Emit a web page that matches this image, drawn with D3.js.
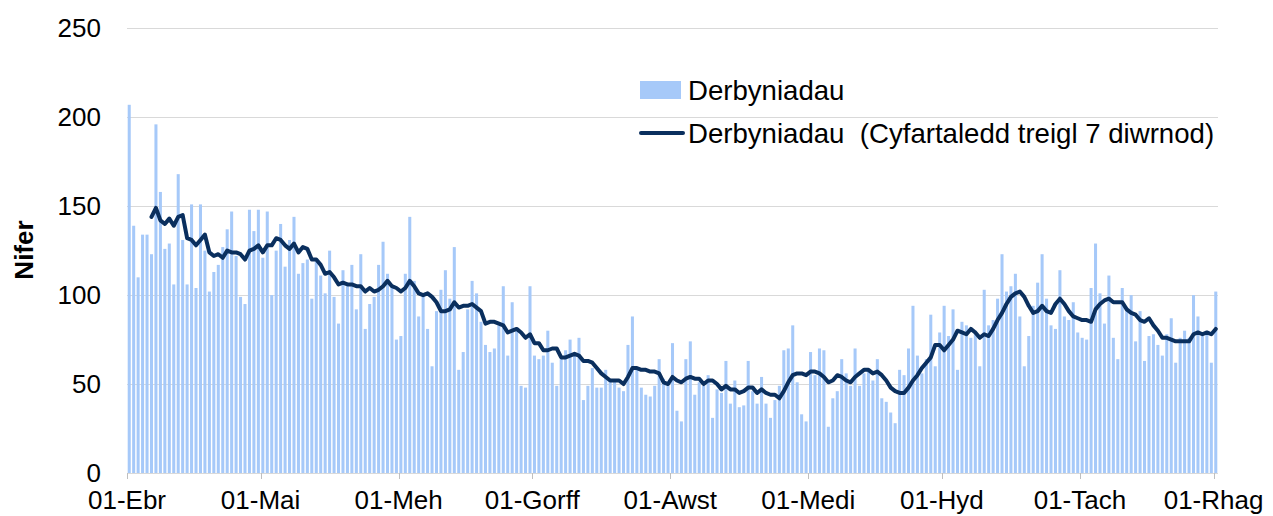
<!DOCTYPE html>
<html lang="cy">
<head>
  <meta charset="UTF-8">
  <title>Derbyniadau</title>
  <style>
    body {
      margin: 0;
      background: #fff;
      font-family: "Liberation Sans", Arial, sans-serif;
    }
    svg { display: block; }
    .grid line { stroke: #d9d9d9; stroke-width: 1; }
    .bar { fill: #a6c9f9; }
    .avg {
      fill: none;
      stroke: #0a2f5e;
      stroke-width: 4;
      stroke-linejoin: round;
      stroke-linecap: round;
    }
    .tick-label { font-size: 26px; fill: #000; }
    .legend text { font-size: 27.6px; fill: #000; white-space: pre; }
  </style>
</head>
<body>
  <svg id="chart" width="1273" height="516"></svg>

  <script src="https://d3js.org/d3.v7.min.js"></script>
  <script>
    // daily admissions, 01-Ebr .. 01-Rhag
    const admissions = [
      207,139,110,134,134,123,196,158,126,129,106,168,131,106,151,104,151,125,102,113,117,127,137,147,122,99,95,148,136,148,
      121,147,100,125,140,116,131,144,112,118,120,98,119,111,101,125,99,84,114,105,117,92,123,81,95,99,117,130,112,105,75,
      77,112,144,108,88,100,81,60,91,103,114,98,127,58,68,92,108,101,85,72,68,70,83,105,66,96,81,49,48,105,
      66,64,66,80,62,49,64,69,75,68,76,41,49,59,48,48,58,52,52,48,46,72,88,58,48,44,43,49,64,53,49,
      73,35,29,64,74,44,51,49,55,31,47,45,63,39,52,37,38,63,46,39,54,39,31,41,49,69,70,83,51,33,29,
      68,55,70,69,26,42,46,64,56,49,70,49,56,58,52,64,42,40,34,28,58,55,70,94,66,56,64,89,60,79,
      94,77,92,58,85,83,76,80,60,103,83,86,98,123,102,105,112,88,60,77,94,107,123,98,83,81,114,88,86,96,79,
      76,75,104,129,101,84,111,76,64,104,93,100,74,91,63,77,78,72,66,78,87,62,76,80,76,100,88,77,78,62,
      102
    ];

    // 7-day rolling average as drawn (first days have no value)
    const rollingAvg = [
      null,null,null,null,null,144,149,142,140,143,139,144,145,132,131,128,131,134,124,122,123,121,125,124,124,123,120,125,126,128,
      124,128,128,132,131,128,126,129,124,127,126,120,120,117,112,113,110,106,107,106,106,105,105,102,104,102,103,105,108,105,104,
      102,104,108,105,101,100,101,99,96,91,91,92,96,93,94,94,95,93,91,84,85,85,84,83,79,80,81,79,76,78,
      73,73,69,69,70,70,65,65,66,67,66,63,63,62,59,56,54,52,52,52,50,54,59,59,58,58,57,57,56,51,50,
      54,52,51,53,54,53,53,50,52,52,50,47,49,47,47,45,46,48,48,45,47,45,44,44,42,46,51,55,56,56,55,
      57,57,56,54,51,52,55,54,52,51,54,56,58,58,56,57,55,52,48,46,45,45,48,52,55,59,62,65,72,72,
      69,72,75,80,79,78,81,79,76,78,77,81,86,90,95,99,101,102,99,94,90,91,94,91,90,95,98,95,91,88,87,
      86,86,85,92,95,97,98,96,96,96,92,90,89,86,85,87,83,80,76,76,75,74,74,74,74,78,79,78,79,78,
      81
    ];

    const monthLabels = ["01-Ebr", "01-Mai", "01-Meh", "01-Gorff", "01-Awst", "01-Medi", "01-Hyd", "01-Tach", "01-Rhag"];
    const yTicks = [0, 50, 100, 150, 200, 250];

    const barName = "Derbyniadau";
    const lineName = "Derbyniadau  (Cyfartaledd treigl 7 diwrnod)";

    const svg = d3.select('#chart');

    const plot = { left: 127, right: 1218, top: 28.3, bottom: 473 };

    // one slot per day; bars sit inside the slot, ticks on slot edges
    const start = new Date(2021, 3, 1);
    const dates = d3.timeDay.range(start, d3.timeDay.offset(start, admissions.length));
    const idx = d3.range(admissions.length);

    const x = d3.scaleBand()
      .domain(idx)
      .range([plot.left, plot.right])
      .paddingInner(0.32)
      .paddingOuter(0.16);

    const slotStart = i => x(i) - x.step() * 0.16;

    const y = d3.scaleLinear()
      .domain([0, 250])
      .range([plot.bottom, plot.top]);

    // gridlines
    svg.append('g').attr('class', 'grid')
      .selectAll('line')
      .data(yTicks)
      .enter().append('line')
      .attr('x1', plot.left)
      .attr('x2', plot.right)
      .attr('y1', d => Math.round(y(d)) + 0.5)
      .attr('y2', d => Math.round(y(d)) + 0.5);

    // y tick labels
    svg.append('g')
      .selectAll('text')
      .data(yTicks)
      .enter().append('text')
      .attr('class', 'tick-label')
      .attr('x', 101)
      .attr('y', d => y(d))
      .attr('dy', '0.35em')
      .attr('text-anchor', 'end')
      .text(d => d);

    // bars
    svg.append('g')
      .selectAll('rect')
      .data(idx)
      .enter().append('rect')
      .attr('class', 'bar')
      .attr('x', i => x(i))
      .attr('width', x.bandwidth())
      .attr('y', i => y(admissions[i]))
      .attr('height', i => y(0) - y(admissions[i]));

    // x axis ticks at the first of each month
    const monthStarts = idx.filter(i => dates[i].getDate() === 1);

    const xAxis = svg.append('g');
    xAxis.selectAll('line')
      .data(monthStarts)
      .enter().append('line')
      .attr('x1', i => Math.round(slotStart(i)) + 0.5)
      .attr('x2', i => Math.round(slotStart(i)) + 0.5)
      .attr('y1', plot.bottom)
      .attr('y2', plot.bottom + 6)
      .style('stroke', '#bfbfbf');

    xAxis.selectAll('text')
      .data(monthStarts)
      .enter().append('text')
      .attr('class', 'tick-label')
      .attr('x', i => slotStart(i))
      .attr('y', 509)
      .attr('text-anchor', 'middle')
      .text((i, k) => monthLabels[k]);

    // rolling average line
    const line = d3.line()
      .defined(i => rollingAvg[i] != null)
      .x(i => x(i) + x.bandwidth() / 2)
      .y(i => y(rollingAvg[i]));

    svg.append('path')
      .datum(idx)
      .attr('class', 'avg')
      .attr('d', line);

    // y axis title
    svg.append('text')
      .attr('transform', 'translate(33,250) rotate(-90)')
      .attr('text-anchor', 'middle')
      .style('font-size', '26px')
      .style('font-weight', 'bold')
      .text('Nifer');

    // legend
    const legend = svg.append('g').attr('class', 'legend');
    legend.append('rect')
      .attr('x', 640).attr('y', 81)
      .attr('width', 41).attr('height', 18)
      .attr('class', 'bar');
    legend.append('text')
      .attr('x', 688).attr('y', 90).attr('dy', '0.35em')
      .text(barName);
    legend.append('line')
      .attr('x1', 641).attr('x2', 683)
      .attr('y1', 133).attr('y2', 133)
      .attr('class', 'avg');
    legend.append('text')
      .attr('x', 688).attr('y', 133).attr('dy', '0.35em')
      .text(lineName);
  </script>
</body>
</html>
